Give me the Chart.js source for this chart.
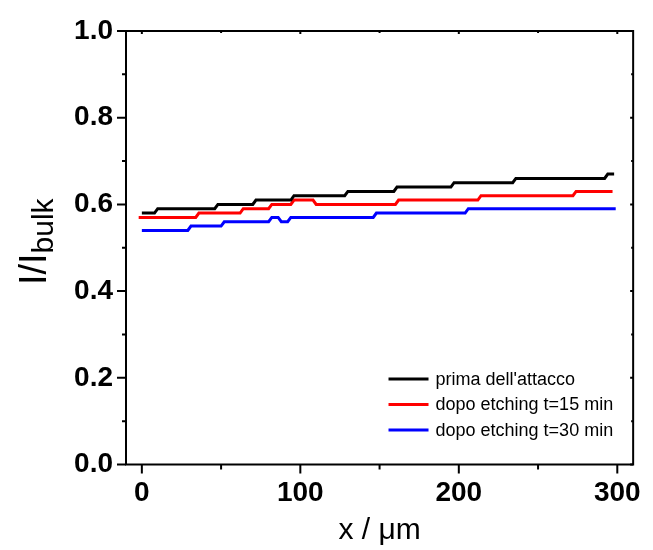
<!DOCTYPE html>
<html><head><meta charset="utf-8">
<script src="https://cdn.jsdelivr.net/npm/chart.js@4"></script>
<style>html,body{margin:0;padding:0;background:#fff;}#wrap{width:653px;height:550px;}</style>
</head><body><div id="wrap"><canvas id="c" width="653" height="550"></canvas></div>
<script>
// ---- data ----
const seriesNames = ["prima dell'attacco", "dopo etching t=15 min", "dopo etching t=30 min"];
const seriesColors = ["#000000", "#ff0000", "#0000ff"];

const blackX = [0, 8, 10, 46, 48, 70, 72, 94, 96, 128, 130, 159, 161, 195, 197, 234, 236, 292, 294, 298];
const blackY = [0.58, 0.58, 0.59, 0.59, 0.60, 0.60, 0.61, 0.61, 0.62, 0.62, 0.63, 0.63, 0.64, 0.64, 0.65, 0.65, 0.66, 0.66, 0.67, 0.67];

const redX = [-2, 34, 36, 62, 64, 80, 82, 94, 96, 108, 110, 160, 162, 212, 214, 272, 274, 297];
const redY = [0.57, 0.57, 0.58, 0.58, 0.59, 0.59, 0.60, 0.60, 0.61, 0.61, 0.60, 0.60, 0.61, 0.61, 0.62, 0.62, 0.63, 0.63];

const blueX = [0, 29, 31, 50, 52, 80, 82, 86, 88, 92, 94, 146, 148, 204, 206, 299];
const blueY = [0.54, 0.54, 0.55, 0.55, 0.56, 0.56, 0.57, 0.57, 0.56, 0.56, 0.57, 0.57, 0.58, 0.58, 0.59, 0.59];

const xMajorTicks = [0, 100, 200, 300];
const xMinorTicks = [50, 150, 250];
const yMajorTicks = [0, 0.2, 0.4, 0.6, 0.8, 1.0];
const yMinorTicks = [0.1, 0.3, 0.5, 0.7, 0.9];
const xRange = [-10, 310];
const yRange = [0, 1];
const xTitle = "x / μm";
const yTitleMain = "I/I";
const yTitleSub = "bulk";

// ---- build ----
function zip(xs, ys) { return xs.map((x, i) => ({x: x, y: ys[i]})); }
const seriesData = [zip(blackX, blackY), zip(redX, redY), zip(blueX, blueY)];
const FONT = "'Liberation Sans', Arial, sans-serif";

const framePlugin = {
  id: 'frame',
  afterDraw(chart) {
    const ctx = chart.ctx, a = chart.chartArea;
    const xs = chart.scales.x, ys = chart.scales.y;
    ctx.save();
    ctx.strokeStyle = '#000';
    ctx.lineWidth = 2;
    ctx.strokeRect(a.left, a.top, a.right - a.left, a.bottom - a.top);
    ctx.beginPath();
    xMajorTicks.forEach(v => { const p = xs.getPixelForValue(v); ctx.moveTo(p, a.bottom); ctx.lineTo(p, a.bottom + 9); ctx.moveTo(p, a.top); ctx.lineTo(p, a.top + 3); });
    xMinorTicks.forEach(v => { const p = xs.getPixelForValue(v); ctx.moveTo(p, a.bottom); ctx.lineTo(p, a.bottom + 5); ctx.moveTo(p, a.top); ctx.lineTo(p, a.top + 2); });
    yMajorTicks.forEach(v => { const p = ys.getPixelForValue(v); ctx.moveTo(a.left, p); ctx.lineTo(a.left - 9, p); ctx.moveTo(a.right, p); ctx.lineTo(a.right - 3, p); });
    yMinorTicks.forEach(v => { const p = ys.getPixelForValue(v); ctx.moveTo(a.left, p); ctx.lineTo(a.left - 4, p); ctx.moveTo(a.right, p); ctx.lineTo(a.right - 2, p); });
    ctx.stroke();

    // legend inside plot, lower right
    ctx.font = "18px " + FONT;
    ctx.textBaseline = 'middle';
    ctx.textAlign = 'left';
    const maxW = Math.max(...seriesNames.map(n => ctx.measureText(n).width));
    const x0 = a.right - 20 - maxW - 47;
    const rowH = 25.5;
    const yLast = a.bottom - 34.5;
    chart.data.datasets.forEach((ds, i) => {
      const yy = yLast - (chart.data.datasets.length - 1 - i) * rowH;
      ctx.strokeStyle = ds.borderColor;
      ctx.lineWidth = 3;
      ctx.beginPath(); ctx.moveTo(x0, yy); ctx.lineTo(x0 + 40, yy); ctx.stroke();
      ctx.fillStyle = '#000';
      ctx.fillText(ds.label, x0 + 47, yy + 1);
    });

    // y title with subscript
    ctx.save();
    const tx = a.left - 80, ty = (a.top + a.bottom) / 2 - 6;
    ctx.translate(tx, ty);
    ctx.rotate(-Math.PI / 2);
    ctx.fillStyle = '#000';
    ctx.textBaseline = 'alphabetic';
    ctx.font = "38px " + FONT;
    const w1 = ctx.measureText(yTitleMain).width;
    ctx.font = "30px " + FONT;
    const w2 = ctx.measureText(yTitleSub).width;
    const start = -(w1 + w2) / 2;
    ctx.font = "38px " + FONT;
    ctx.fillText(yTitleMain, start, 0);
    ctx.font = "30px " + FONT;
    ctx.fillText(yTitleSub, start + w1, 7);
    ctx.restore();
    ctx.restore();
  }
};

new Chart(document.getElementById('c'), {
  type: 'scatter',
  data: {
    datasets: seriesData.map((d, i) => ({
      label: seriesNames[i],
      data: d,
      showLine: true,
      borderColor: seriesColors[i],
      backgroundColor: seriesColors[i],
      borderWidth: 3,
      pointRadius: 0,
      tension: 0,
      fill: false
    }))
  },
  options: {
    responsive: false,
    animation: false,
    devicePixelRatio: 1,
    layout: {padding: {top: 31, right: 11, left: 0, bottom: 0}},
    plugins: {legend: {display: false}, tooltip: {enabled: false}},
    scales: {
      x: {
        type: 'linear', min: xRange[0], max: xRange[1],
        afterBuildTicks: s => { s.ticks = xMajorTicks.map(v => ({value: v})); },
        afterFit: s => { s.height = 85.5; },
        grid: {display: false, drawTicks: false},
        border: {display: false},
        ticks: {color: '#000', padding: 12, maxRotation: 0, font: {family: FONT, size: 28, weight: 'bold'}, callback: v => String(v)},
        title: {display: true, text: xTitle, color: '#000', font: {family: FONT, size: 30}, padding: {top: 0, bottom: 1}}
      },
      y: {
        type: 'linear', min: yRange[0], max: yRange[1],
        afterBuildTicks: s => { s.ticks = yMajorTicks.map(v => ({value: v})); },
        afterFit: s => { s.width = 126; },
        grid: {display: false, drawTicks: false},
        border: {display: false},
        ticks: {color: '#000', padding: 13, font: {family: FONT, size: 28, weight: 'bold'}, callback: v => Number(v).toFixed(1)}
      }
    }
  },
  plugins: [framePlugin]
});
</script>
</body></html>
